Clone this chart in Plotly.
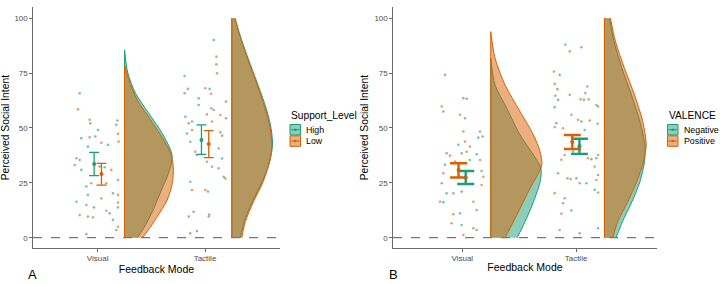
import plotly.graph_objects as go

W, H = 720, 284
GREEN = "#1B9E77"
ORANGE = "#D95F02"
AXC = "#6b6b6b"
FONT = "Liberation Sans, Arial, sans-serif"

CATS = ["Visual", "Tactile"]
Y_TICKS = [0, 25, 50, 75, 100]

# ---------------- Panel A : Support_Level ----------------
A_GROUPS = ["High", "Low"]
A_VIS_HIGH_Y = [65.8, 53.7, 53.4, 49.1, 45.3, 46.1, 42.3, 41.5, 35.4, 30.9, 32.1, 26.3, 23.3, 20.2, 19.5, 16.4, 13.8, 13.8, 11.1, 9.6, 8.1, 1.7]
A_VIS_HIGH_JIT = [-0.168, -0.075, 0.183, 0.003, -0.153, -0.022, 0.096, -0.091, -0.168, -0.153, 0.065, 0.189, -0.106, 0.142, -0.091, -0.199, -0.035, 0.189, 0.111, -0.091, 0.142, -0.106]
A_VIS_LOW_Y = [58.5, 52.1, 51.4, 47.3, 45.8, 43.3, 43.8, 36.2, 33.1, 32.4, 30.9, 24.8, 24.8, 19.5, 17.9, 14.9, 16.0, 12.3, 10.3, 9.3, 5.0, 3.5]
A_VIS_LOW_JIT = [-0.184, -0.069, 0.173, 0.189, -0.075, 0.034, 0.195, -0.199, -0.215, 0.018, 0.127, -0.060, 0.080, 0.189, 0.034, -0.106, 0.189, 0.080, -0.168, -0.044, 0.189, 0.173]
A_TAC_HIGH_Y = [90.1, 79.0, 73.7, 65.8, 67.8, 63.5, 60.5, 58.2, 55.1, 54.4, 52.9, 47.5, 48.0, 43.7, 37.7, 36.1, 32.3, 27.8, 25.5, 21.0, 11.8, 10.6, 3.0]
A_TAC_HIGH_JIT = [0.081, 0.106, -0.190, -0.190, 0.043, -0.059, -0.059, 0.081, -0.183, 0.196, -0.121, -0.168, 0.143, -0.137, -0.075, 0.159, 0.065, 0.174, -0.137, 0.028, -0.106, 0.040, -0.075]
A_TAC_LOW_Y = [82.5, 74.9, 67.8, 68.1, 65.6, 62.0, 59.0, 56.2, 55.9, 52.1, 52.9, 49.1, 46.5, 39.2, 40.7, 34.6, 31.6, 27.0, 21.7, 21.7, 9.6, 9.6, 1.95]
A_TAC_LOW_JIT = [0.106, 0.112, -0.159, 0.003, 0.056, 0.196, 0.059, 0.018, 0.143, -0.152, 0.065, -0.121, 0.159, -0.090, 0.127, 0.019, 0.127, 0.190, 0.003, -0.121, -0.152, 0.034, -0.137]

A_MEAN_HIGH = [33.6, 44.5]
A_LO_HIGH = [28.3, 38.0]
A_HI_HIGH = [38.9, 51.4]
A_MEAN_LOW = [29.0, 42.7]
A_LO_LOW = [24.0, 36.5]
A_HI_LOW = [33.9, 48.8]

# half-violin outlines (value, half-width in category units)
A_VIS_HIGH_DY = [85.6, 75.0, 65.8, 56.7, 47.6, 40.0, 36.2, 29.4, 21.8, 11.1, 4.9, 0.0]
A_VIS_HIGH_DW = [0.0, 0.031, 0.103, 0.226, 0.351, 0.429, 0.445, 0.410, 0.345, 0.252, 0.186, 0.121]
A_VIS_LOW_DY = [78.7, 71.9, 62.8, 53.7, 44.5, 38.5, 32.4, 24.8, 17.2, 9.6, 4.9, 0.0]
A_VIS_LOW_DW = [0.0, 0.040, 0.118, 0.242, 0.366, 0.429, 0.454, 0.445, 0.398, 0.305, 0.242, 0.168]
A_TAC_DY = [100.0, 92.4, 83.3, 71.1, 59.0, 49.9, 42.3, 34.7, 25.5, 16.4, 7.3, 0.0]
A_TAC_HIGH_DW = [0.031, 0.076, 0.140, 0.233, 0.320, 0.366, 0.379, 0.354, 0.284, 0.191, 0.115, 0.079]
A_TAC_LOW_DW = [0.028, 0.072, 0.133, 0.226, 0.310, 0.357, 0.373, 0.351, 0.292, 0.202, 0.126, 0.093]

# ---------------- Panel B : VALENCE ----------------
B_GROUPS = ["Negative", "Positive"]
B_VIS_NEG_Y = [74.2, 63.3, 57.5, 54.4, 48.4, 45.6, 42.3, 38.5, 38.5, 38.0, 35.4, 33.2, 30.4, 24.8, 20.2, 21.0, 16.2, 12.6, 11.1, 5.8, 3.5]
B_VIS_NEG_JIT = [-0.152, 0.038, -0.167, 0.024, 0.156, 0.141, -0.035, -0.138, -0.006, 0.126, 0.067, -0.152, 0.170, -0.181, -0.138, -0.006, -0.167, 0.126, -0.020, -0.006, 0.126]
B_VIS_POS_Y = [63.6, 59.8, 56.0, 48.4, 46.1, 43.8, 41.5, 37.4, 39.2, 35.4, 34.7, 29.4, 27.8, 24.0, 20.2, 16.4, 16.4, 10.7, 6.6, 4.3, 1.2]
B_VIS_POS_JIT = [0.009, -0.181, -0.020, 0.009, 0.179, 0.024, 0.067, -0.108, 0.038, 0.156, -0.064, -0.167, 0.185, 0.170, -0.079, -0.196, 0.097, -0.079, -0.094, 0.097, 0.009]
B_TAC_NEG_Y = [87.9, 86.8, 74.2, 67.7, 62.8, 65.9, 62.8, 59.5, 59.8, 56.0, 52.9, 52.2, 51.9, 49.1, 39.3, 35.8, 36.2, 29.4, 28.6, 27.1, 27.1, 24.8, 21.8, 18.0, 12.4, 4.3, 2.0]
B_TAC_NEG_JIT = [-0.094, 0.047, -0.144, -0.164, -0.158, 0.082, 0.070, -0.188, 0.194, -0.041, 0.047, -0.173, 0.190, 0.076, -0.026, 0.135, 0.179, -0.158, 0.194, -0.076, 0.003, 0.091, 0.164, -0.100, -0.041, 0.194, 0.032]
B_TAC_POS_Y = [84.9, 75.7, 70.1, 64.7, 68.9, 63.1, 63.1, 60.5, 65.1, 53.7, 53.4, 50.4, 49.9, 37.7, 36.2, 37.7, 35.5, 32.4, 26.3, 26.7, 24.8, 20.3, 20.6, 15.7, 10.9, 3.5]
B_TAC_POS_JIT = [-0.055, -0.194, -0.188, -0.182, 0.099, 0.041, 0.111, 0.179, -0.055, 0.018, 0.120, -0.188, -0.114, -0.100, 0.105, 0.194, -0.129, 0.164, 0.179, -0.047, 0.032, -0.188, 0.194, -0.114, -0.129, -0.144]

B_MEAN_NEG = [27.4, 41.7]
B_LO_NEG = [24.5, 38.2]
B_HI_NEG = [30.4, 45.1]
B_MEAN_POS = [30.9, 43.6]
B_LO_POS = [27.4, 40.4]
B_HI_POS = [33.9, 46.8]

B_VIS_NEG_DY = [81.8, 69.6, 59.0, 46.8, 37.7, 31.6, 25.5, 16.4, 7.3, 0.0]
B_VIS_NEG_DW = [0.0, 0.038, 0.141, 0.258, 0.376, 0.442, 0.434, 0.376, 0.302, 0.233]
B_VIS_POS_DY = [93.9, 81.8, 69.6, 57.5, 46.8, 39.2, 33.2, 28.6, 24.0, 14.9, 5.8, 0.0]
B_VIS_POS_DW = [0.0, 0.038, 0.126, 0.258, 0.376, 0.434, 0.449, 0.413, 0.361, 0.273, 0.185, 0.126]
B_TAC_DY = [100.0, 89.4, 77.2, 65.1, 52.9, 42.3, 34.7, 25.5, 16.4, 7.3, 0.0]
B_TAC_NEG_DW = [0.044, 0.084, 0.154, 0.237, 0.312, 0.356, 0.352, 0.312, 0.242, 0.158, 0.103]
B_TAC_POS_DW = [0.053, 0.097, 0.176, 0.264, 0.337, 0.367, 0.343, 0.284, 0.205, 0.117, 0.073]


def rgba(hx, a):
    hx = hx.lstrip("#")
    r, g, b = int(hx[0:2], 16), int(hx[2:4], 16), int(hx[4:6], 16)
    return f"rgba({r},{g},{b},{a})"


fig = go.Figure()


def add_violin(xa, ya, cat_pos, dy, dw, color):
    base = cat_pos + 0.25
    fig.add_trace(go.Scatter(x=[base, base], y=[dy[0], dy[-1]], mode="lines",
                             line=dict(color=color, width=1), xaxis=xa, yaxis=ya,
                             showlegend=False, hoverinfo="skip"))
    fig.add_trace(go.Scatter(x=[base + w for w in dw], y=dy, mode="lines",
                             line=dict(color=color, width=1, shape="spline", smoothing=0.8),
                             fill="tonextx", fillcolor=rgba(color, 0.5),
                             xaxis=xa, yaxis=ya, showlegend=False, hoverinfo="skip"))


def add_points(xa, ya, cat_pos, ys, jit, color):
    fig.add_trace(go.Scatter(x=[cat_pos + j for j in jit], y=ys, mode="markers",
                             marker=dict(color=color, size=2.6, opacity=0.6),
                             xaxis=xa, yaxis=ya, showlegend=False, hoverinfo="skip"))


def add_err(xa, ya, dodge, mean, lo, hi, color, thick, capw):
    xs = [i + 1 + dodge for i in range(len(CATS))]
    fig.add_trace(go.Scatter(x=xs, y=mean, mode="markers",
                             marker=dict(color=color, size=4),
                             error_y=dict(type="data", symmetric=False,
                                          array=[h - m for h, m in zip(hi, mean)],
                                          arrayminus=[m - l for m, l in zip(mean, lo)],
                                          color=color, thickness=thick, width=capw),
                             xaxis=xa, yaxis=ya, showlegend=False, hoverinfo="skip"))


# Panel A
add_violin("x", "y", 1, A_VIS_HIGH_DY, A_VIS_HIGH_DW, GREEN)
add_violin("x", "y", 1, A_VIS_LOW_DY, A_VIS_LOW_DW, ORANGE)
add_violin("x", "y", 2, A_TAC_DY, A_TAC_HIGH_DW, GREEN)
add_violin("x", "y", 2, A_TAC_DY, A_TAC_LOW_DW, ORANGE)
add_points("x", "y", 1, A_VIS_HIGH_Y, A_VIS_HIGH_JIT, GREEN)
add_points("x", "y", 1, A_VIS_LOW_Y, A_VIS_LOW_JIT, ORANGE)
add_points("x", "y", 2, A_TAC_HIGH_Y, A_TAC_HIGH_JIT, GREEN)
add_points("x", "y", 2, A_TAC_LOW_Y, A_TAC_LOW_JIT, ORANGE)
add_err("x", "y", -0.033, A_MEAN_HIGH, A_LO_HIGH, A_HI_HIGH, GREEN, 1.3, 5)
add_err("x", "y", 0.035, A_MEAN_LOW, A_LO_LOW, A_HI_LOW, ORANGE, 1.3, 5)

# Panel B
add_violin("x2", "y2", 1, B_VIS_NEG_DY, B_VIS_NEG_DW, GREEN)
add_violin("x2", "y2", 1, B_VIS_POS_DY, B_VIS_POS_DW, ORANGE)
add_violin("x2", "y2", 2, B_TAC_DY, B_TAC_NEG_DW, GREEN)
add_violin("x2", "y2", 2, B_TAC_DY, B_TAC_POS_DW, ORANGE)
add_points("x2", "y2", 1, B_VIS_NEG_Y, B_VIS_NEG_JIT, GREEN)
add_points("x2", "y2", 1, B_VIS_POS_Y, B_VIS_POS_JIT, ORANGE)
add_points("x2", "y2", 2, B_TAC_NEG_Y, B_TAC_NEG_JIT, GREEN)
add_points("x2", "y2", 2, B_TAC_POS_Y, B_TAC_POS_JIT, ORANGE)
add_err("x2", "y2", 0.03, B_MEAN_NEG, B_LO_NEG, B_HI_NEG, GREEN, 2.4, 8.5)
add_err("x2", "y2", -0.033, B_MEAN_POS, B_LO_POS, B_HI_POS, ORANGE, 2.4, 8.5)

YDOM = [1 - 248 / H, 1 - 7.3 / H]


def xaxis_cfg(dom, rng, anchor):
    return dict(domain=dom, range=rng, anchor=anchor, tickvals=[1, 2], ticktext=CATS,
                showline=True, linecolor=AXC, linewidth=1.3, ticks="outside", ticklen=2.5,
                tickcolor=AXC, tickwidth=1, tickfont=dict(size=8, color="#4d4d4d"),
                showgrid=False, zeroline=False, automargin=False,
                title=dict(text="Feedback Mode", font=dict(size=10.5, color="black"), standoff=1))


def yaxis_cfg(anchor):
    return dict(domain=YDOM, range=[-4.7, 105], anchor=anchor, tickvals=Y_TICKS,
                showline=True, linecolor=AXC, linewidth=1.3, ticks="outside", ticklen=2.5,
                tickcolor=AXC, tickwidth=1, tickfont=dict(size=8, color="#4d4d4d"),
                showgrid=False, zeroline=False, automargin=False,
                title=dict(text="Perceived Social Intent", font=dict(size=10.3, color="black"), standoff=3))


shapes = []
for xr, yr in [("x", "y"), ("x2", "y2")]:
    shapes.append(dict(type="line", xref=f"{xr} domain", yref=yr, x0=0, x1=1, y0=0, y1=0,
                       line=dict(color="#555555", width=1, dash="dash"), layer="below"))

annotations = []


def px(xp):
    return xp / W


def py(yp):
    return 1 - yp / H


def legend(x0, ytitle, title, labels):
    annotations.append(dict(text=title, x=px(x0 - 1), y=py(ytitle), xref="paper", yref="paper",
                            xanchor="left", yanchor="middle", showarrow=False,
                            font=dict(size=10.2, color="black")))
    for i, (lab, col) in enumerate(zip(labels, [GREEN, ORANGE])):
        top = 124.5 + i * 11.3
        shapes.append(dict(type="rect", xref="paper", yref="paper",
                           x0=px(x0), x1=px(x0 + 10.5), y0=py(top + 10.5), y1=py(top),
                           fillcolor=rgba(col, 0.5), line=dict(color=col, width=1)))
        shapes.append(dict(type="line", xref="paper", yref="paper",
                           x0=px(x0 + 1), x1=px(x0 + 9.5), y0=py(top + 5.25), y1=py(top + 5.25),
                           line=dict(color=col, width=1)))
        shapes.append(dict(type="circle", xref="paper", yref="paper",
                           x0=px(x0 + 4), x1=px(x0 + 6.5), y0=py(top + 6.5), y1=py(top + 4),
                           fillcolor=col, line=dict(color=col, width=0)))
        annotations.append(dict(text=lab, x=px(x0 + 14), y=py(top + 5.5), xref="paper", yref="paper",
                                xanchor="left", yanchor="middle", showarrow=False,
                                font=dict(size=8.8, color="black")))


legend(290, 115.5, "Support_Level", A_GROUPS)
legend(667.5, 115, "VALENCE", B_GROUPS)

annotations.append(dict(text="A", x=px(26), y=py(274), xref="paper", yref="paper",
                        xanchor="left", yanchor="middle", showarrow=False,
                        font=dict(size=13, color="black")))
annotations.append(dict(text="B", x=px(387), y=py(274), xref="paper", yref="paper",
                        xanchor="left", yanchor="middle", showarrow=False,
                        font=dict(size=13, color="black")))

fig.update_layout(
    width=W, height=H, margin=dict(l=0, r=0, t=0, b=0),
    paper_bgcolor="white", plot_bgcolor="white",
    font=dict(family=FONT, color="black"),
    showlegend=False,
    xaxis=xaxis_cfg([33 / W, 280 / W], [0.397, 2.699], "y"),
    yaxis=yaxis_cfg("x"),
    xaxis2=xaxis_cfg([393 / W, 657 / W], [0.3905, 2.712], "y2"),
    yaxis2=yaxis_cfg("x2"),
    shapes=shapes, annotations=annotations,
)

fig.write_html("out.html", config={"displayModeBar": False},
               post_script="document.body.style.margin='0';document.body.style.overflow='hidden';")
